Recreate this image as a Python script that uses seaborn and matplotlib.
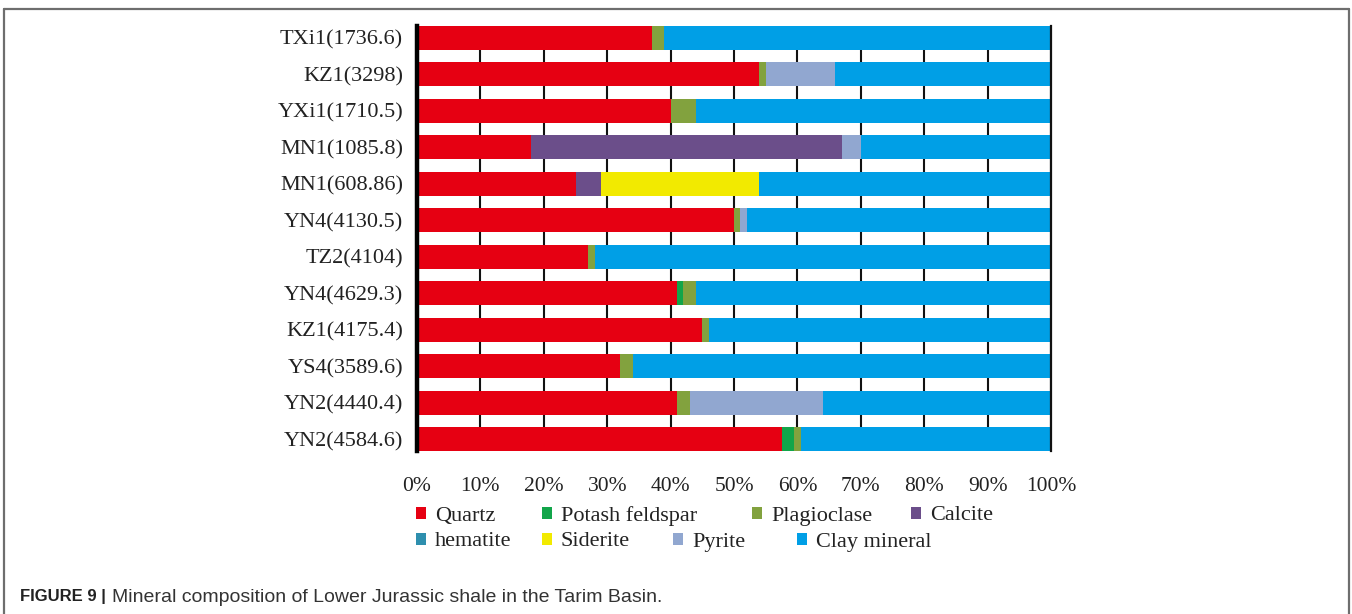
import matplotlib
matplotlib.use("Agg")
import matplotlib.pyplot as plt
from matplotlib.patches import Patch
from matplotlib.lines import Line2D
import numpy as np
import pandas as pd
import seaborn as sns

# Mineral composition (%) of each shale sample
samples = ["TXi1(1736.6)", "KZ1(3298)", "YXi1(1710.5)", "MN1(1085.8)",
           "MN1(608.86)", "YN4(4130.5)", "TZ2(4104)", "YN4(4629.3)",
           "KZ1(4175.4)", "YS4(3589.6)", "YN2(4440.4)", "YN2(4584.6)"]
quartz          = [37, 54, 40, 18, 25, 50, 27, 41, 45, 32, 41, 57.5]
potash_feldspar = [0, 0, 0, 0, 0, 0, 0, 1, 0, 0, 0, 2]
plagioclase     = [2, 1, 4, 0, 0, 1, 1, 2, 1, 2, 2, 1]
calcite         = [0, 0, 0, 49, 4, 0, 0, 0, 0, 0, 0, 0]
hematite        = [0, 0, 0, 0, 0, 0, 0, 0, 0, 0, 0, 0]
siderite        = [0, 0, 0, 0, 25, 0, 0, 0, 0, 0, 0, 0]
pyrite          = [0, 11, 0, 3, 0, 1, 0, 0, 0, 0, 21, 0]
clay_mineral    = [61, 34, 56, 30, 46, 48, 72, 56, 54, 66, 36, 39.5]

minerals = ["Quartz", "Potash feldspar", "Plagioclase", "Calcite",
            "hematite", "Siderite", "Pyrite", "Clay mineral"]
colors = ["#E60012", "#12A54A", "#82A23E", "#6B4E8A",
          "#2E8FAE", "#F2EA00", "#91A7D0", "#009FE6"]
x_ticks = [0, 10, 20, 30, 40, 50, 60, 70, 80, 90, 100]

df = pd.DataFrame({"sample": samples, "Quartz": quartz,
                   "Potash feldspar": potash_feldspar,
                   "Plagioclase": plagioclase, "Calcite": calcite,
                   "hematite": hematite, "Siderite": siderite,
                   "Pyrite": pyrite, "Clay mineral": clay_mineral})
cum = df[minerals].cumsum(axis=1)

sns.set_style("white")
plt.rcParams["font.family"] = ["Liberation Serif", "DejaVu Serif"]

fig = plt.figure(figsize=(13.52, 6.14), dpi=100)
ax = fig.add_axes([417 / 1352, 1 - 451 / 614, 634 / 1352, 425 / 614])

bar_h = 0.65
# stacked bars: draw cumulative totals from the outermost segment inward
for name, col in reversed(list(zip(minerals, colors))):
    sns.barplot(x=cum[name].values, y=df["sample"], orient="h", color=col,
                saturation=1, width=bar_h, linewidth=0, edgecolor="none",
                ax=ax, zorder=3)

n = len(samples)
ax.set_ylim(n - 1 + bar_h / 2, -bar_h / 2)
ax.set_xlim(0, 100)
ax.set_xticks(x_ticks)
ax.set_xticklabels([f"{v}%" for v in x_ticks])
ax.set_xlabel("")
ax.set_ylabel("")
ax.xaxis.grid(True, color="#111111", linewidth=1.5)
ax.yaxis.grid(False)
ax.set_axisbelow(True)
ax.tick_params(axis="both", length=0, colors="#222222", labelsize=16)
ax.tick_params(axis="x", pad=19, labelsize=15.5)
ax.tick_params(axis="y", pad=10)
for side in ["top", "bottom"]:
    ax.spines[side].set_visible(False)
ax.spines["left"].set_color("#000000")
ax.spines["left"].set_linewidth(3.2)
ax.spines["right"].set_color("#111111")
ax.spines["right"].set_linewidth(1.6)
for s in ["left", "right"]:
    ax.spines[s].set_zorder(5)

# legend entries laid out in two rows under the axis
legend_pos = [(416, 516), (542, 516), (752, 516), (911, 516),
              (416, 542), (542, 542), (673, 542), (797, 542)]
for (name, col), (px, py) in zip(zip(minerals, colors), legend_pos):
    handle = Patch(facecolor=col, edgecolor="none", label=name)
    leg = fig.legend(handles=[handle], loc="center left",
                     bbox_to_anchor=(px / 1352, 1 - py / 614),
                     frameon=False, handlelength=0.45, handleheight=0.45,
                     handletextpad=0.4, borderpad=0, borderaxespad=0,
                     prop={"size": 16, "family": "Liberation Serif"})
    for t in leg.get_texts():
        t.set_color("#222222")

# panel frame
frame_color = "#6e6e6e"
x0, x1, ytop = 4 / 1352, 1349 / 1352, 1 - 9 / 614
for xs, ys in [((x0, x0), (0, ytop)), ((x1, x1), (0, ytop)), ((x0, x1), (ytop, ytop))]:
    fig.add_artist(Line2D(xs, ys, transform=fig.transFigure,
                          color=frame_color, linewidth=1.6))

# caption
cap_y = 1 - 597 / 614
t1 = fig.text(20 / 1352, cap_y, "FIGURE 9 |", fontsize=12, fontweight="bold",
              family="Liberation Sans", color="#222222", va="center", ha="left")
fig.canvas.draw()
bb = t1.get_window_extent()
fig.text((bb.x1 + 6) / 1352, cap_y,
         "Mineral composition of Lower Jurassic shale in the Tarim Basin.",
         fontsize=14, family="Liberation Sans", color="#333333",
         va="center", ha="left")

fig.savefig("out.png", dpi=100, facecolor="white")
